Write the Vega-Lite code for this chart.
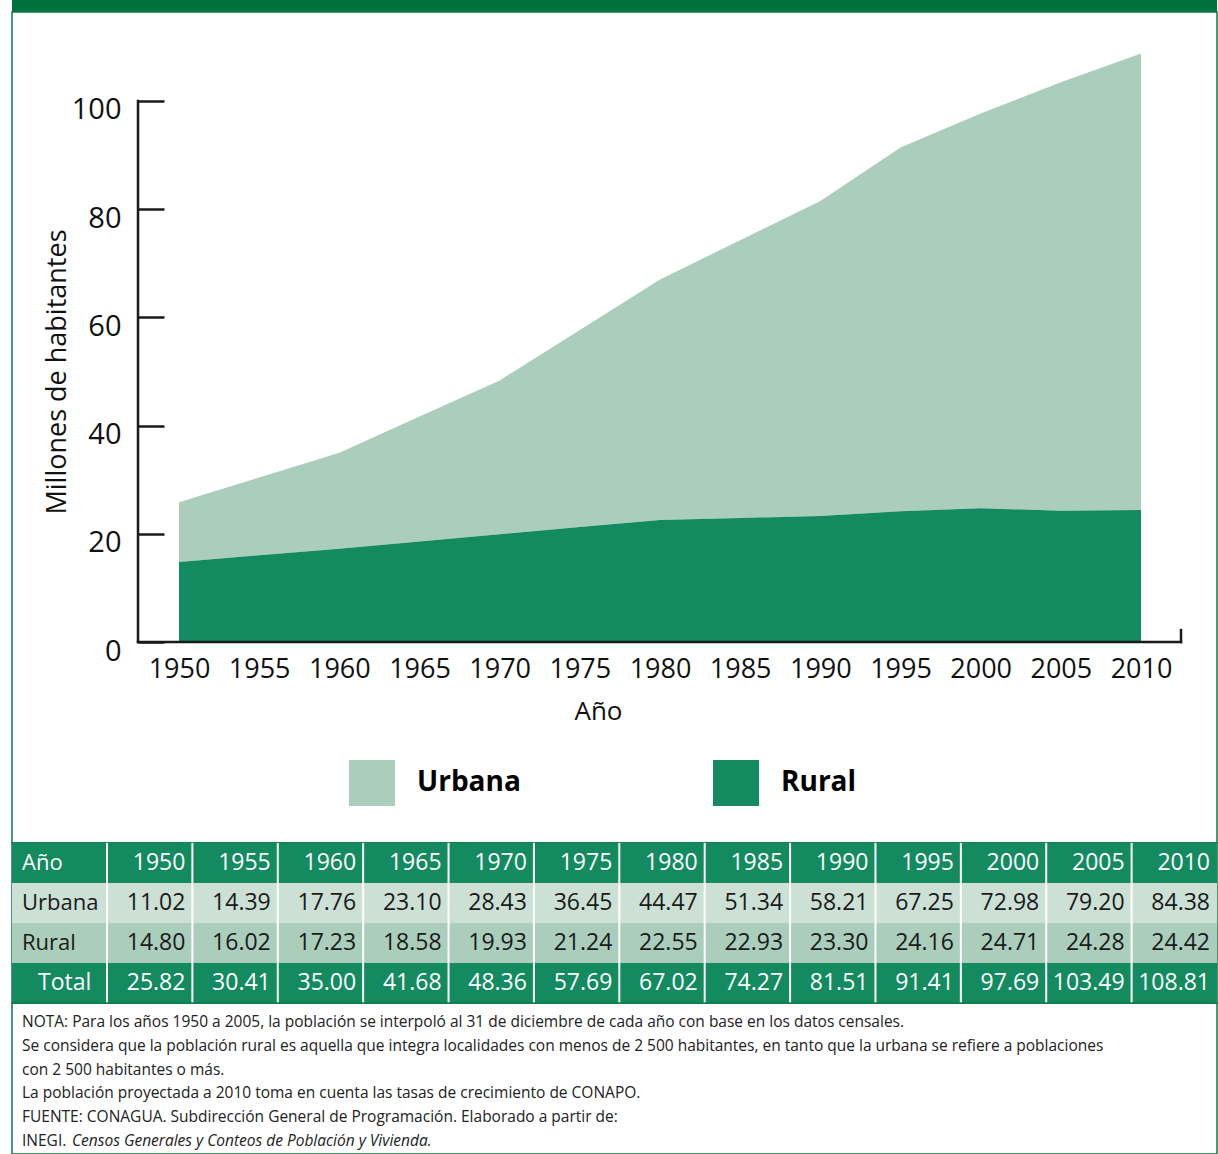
{
  "$schema": "https://vega.github.io/schema/vega-lite/v6.json",
  "padding": {"left": 11, "right": 2, "top": 0, "bottom": 0},
  "spacing": 0,
  "bounds": "flush",
  "background": "white",
  "config": {
    "font": "Open Sans",
    "view": {"stroke": "#0b7a45", "strokeWidth": 1.5},
    "axis": {"grid": false}
  },
  "resolve": {"scale": {"color": "independent", "x": "independent", "y": "independent"}},
  "datasets": {
    "poblacion": [
      {"anio": 1950, "Urbana": 11.02, "Rural": 14.80, "Total": 25.82},
      {"anio": 1955, "Urbana": 14.39, "Rural": 16.02, "Total": 30.41},
      {"anio": 1960, "Urbana": 17.76, "Rural": 17.23, "Total": 35.00},
      {"anio": 1965, "Urbana": 23.10, "Rural": 18.58, "Total": 41.68},
      {"anio": 1970, "Urbana": 28.43, "Rural": 19.93, "Total": 48.36},
      {"anio": 1975, "Urbana": 36.45, "Rural": 21.24, "Total": 57.69},
      {"anio": 1980, "Urbana": 44.47, "Rural": 22.55, "Total": 67.02},
      {"anio": 1985, "Urbana": 51.34, "Rural": 22.93, "Total": 74.27},
      {"anio": 1990, "Urbana": 58.21, "Rural": 23.30, "Total": 81.51},
      {"anio": 1995, "Urbana": 67.25, "Rural": 24.16, "Total": 91.41},
      {"anio": 2000, "Urbana": 72.98, "Rural": 24.71, "Total": 97.69},
      {"anio": 2005, "Urbana": 79.20, "Rural": 24.28, "Total": 103.49},
      {"anio": 2010, "Urbana": 84.38, "Rural": 24.42, "Total": 108.81}
    ],
    "filas": [
      {"fila": "Año"},
      {"fila": "Urbana"},
      {"fila": "Rural"},
      {"fila": "Total"}
    ],
    "notas": [
      {"linea": 1, "texto": "NOTA: Para los años 1950 a 2005, la población se interpoló al 31 de diciembre de cada año con base en los datos censales."},
      {"linea": 2, "texto": "Se considera que la población rural es aquella que integra localidades con menos de 2 500 habitantes, en tanto que la urbana se refiere a poblaciones"},
      {"linea": 3, "texto": "con 2 500 habitantes o más."},
      {"linea": 4, "texto": "La población proyectada a 2010 toma en cuenta las tasas de crecimiento de CONAPO."},
      {"linea": 5, "texto": "FUENTE: CONAGUA. Subdirección General de Programación. Elaborado a partir de:"},
      {"linea": 6, "texto": "INEGI."}
    ]
  },
  "vconcat": [
    {
      "width": 1205,
      "height": 12,
      "view": {"stroke": null, "fill": "#00703c"},
      "data": {"values": [{}]},
      "mark": {"type": "rect", "color": "#00703c"},
      "encoding": {}
    },
    {
      "width": 1205,
      "height": 831,
      "layer": [
        {
          "data": {"name": "poblacion"},
          "transform": [{"fold": ["Urbana", "Rural"], "as": ["serie", "valor"]}],
          "mark": {"type": "area", "opacity": 1},
          "encoding": {
            "x": {
              "field": "anio", "type": "quantitative",
              "scale": {"domain": [1939.584, 2014.74], "nice": false, "zero": false},
              "axis": {
                "values": [1950, 1955, 1960, 1965, 1970, 1975, 1980, 1985, 1990, 1995, 2000, 2005, 2010],
                "format": "d", "domain": false, "ticks": false, "tickSize": 0,
                "labelPadding": 14, "labelFontSize": 27, "labelColor": "#111",
                "labelFlush": false, "labelOverlap": false,
                "offset": -201,
                "title": "Año", "titleFontSize": 26, "titleFontWeight": "normal",
                "titleColor": "#111", "titlePadding": 16, "titleX": 586, "titleAnchor": "middle"
              }
            },
            "y": {
              "field": "valor", "type": "quantitative", "stack": "zero",
              "scale": {"domain": [-37.15, 116.45], "nice": false, "zero": false},
              "axis": {
                "values": [0, 20, 40, 60, 80, 100],
                "domain": false, "ticks": true, "tickSize": -26, "tickWidth": 2.5,
                "tickColor": "#1a1a1a",
                "labelPadding": 43, "labelFontSize": 29, "labelColor": "#111",
                "labelOffset": 9, "labelFlush": false,
                "offset": -126,
                "title": "Millones de habitantes", "titleFontSize": 27,
                "titleFontWeight": "normal", "titleColor": "#111",
                "titleX": -73, "titleY": 359.5, "titleBaseline": "alphabetic",
                "titleAlign": "center", "titleAngle": -90
              }
            },
            "color": {
              "field": "serie", "type": "nominal",
              "scale": {"domain": ["Urbana", "Rural"], "range": ["#abcdbc", "#138a5f"]},
              "legend": {
                "orient": "none", "legendX": 337, "legendY": 748,
                "direction": "horizontal", "title": null,
                "symbolType": "square", "symbolSize": 2116,
                "symbolStrokeWidth": 0, "symbolOpacity": 1,
                "labelFontSize": 28, "labelFontWeight": "bold", "labelColor": "#000",
                "labelOffset": 22, "columnPadding": 192, "labelLimit": 300, "padding": 0
              }
            },
            "order": {"field": "serie", "sort": "ascending"}
          }
        },
        {
          "data": {"values": [{}]},
          "mark": {"type": "rule", "color": "#1a1a1a", "strokeWidth": 2.5, "strokeCap": "square"},
          "encoding": {
            "x": {"datum": 1947.443, "type": "quantitative"},
            "y": {"datum": 0, "type": "quantitative"},
            "y2": {"datum": 100}
          }
        },
        {
          "data": {"values": [{}]},
          "mark": {"type": "rule", "color": "#1a1a1a", "strokeWidth": 2.5, "strokeCap": "square"},
          "encoding": {
            "x": {"datum": 1947.443, "type": "quantitative"},
            "x2": {"datum": 2012.495},
            "y": {"datum": 0, "type": "quantitative"}
          }
        },
        {
          "data": {"values": [{}]},
          "mark": {"type": "rule", "color": "#1a1a1a", "strokeWidth": 2.5, "strokeCap": "square"},
          "encoding": {
            "x": {"datum": 2012.495, "type": "quantitative"},
            "y": {"datum": 0, "type": "quantitative"},
            "y2": {"datum": 2.2}
          }
        }
      ]
    },
    {
      "width": 1205,
      "height": 160,
      "encoding": {
        "y": {
          "field": "fila", "type": "nominal",
          "scale": {"type": "band", "domain": ["Año", "Urbana", "Rural", "Total"], "paddingInner": 0, "paddingOuter": 0},
          "axis": null
        }
      },
      "layer": [
        {
          "data": {"name": "filas"},
          "mark": {"type": "rect"},
          "encoding": {
            "color": {
              "field": "fila", "type": "nominal",
              "scale": {"domain": ["Año", "Urbana", "Rural", "Total"], "range": ["#138a5f", "#cce0d6", "#abcdbc", "#138a5f"]},
              "legend": null
            }
          }
        },
        {
          "data": {"name": "poblacion"},
          "mark": {"type": "rule", "color": "white", "strokeWidth": 2},
          "encoding": {
            "y": null,
            "x": {
              "field": "anio", "type": "ordinal", "bandPosition": 0,
              "scale": {"type": "band", "paddingInner": 0, "paddingOuter": 0.5563, "align": 1},
              "axis": null
            }
          }
        },
        {
          "data": {"name": "poblacion"},
          "mark": {"type": "text", "align": "right", "baseline": "middle", "dx": -7, "fontSize": 23, "color": "white"},
          "encoding": {
            "x": {"field": "anio", "type": "ordinal", "bandPosition": 1},
            "y": {"datum": "Año"},
            "text": {"field": "anio", "type": "nominal"}
          }
        },
        {
          "data": {"name": "poblacion"},
          "transform": [{"fold": ["Urbana", "Rural", "Total"], "as": ["fila", "valor"]}],
          "mark": {"type": "text", "align": "right", "baseline": "middle", "dx": -7, "fontSize": 23},
          "encoding": {
            "x": {"field": "anio", "type": "ordinal", "bandPosition": 1},
            "text": {"field": "valor", "type": "quantitative", "format": ".2f"},
            "color": {"condition": {"test": "datum.fila === 'Total'", "value": "white"}, "value": "#1a1a1a"}
          }
        },
        {
          "data": {"name": "filas"},
          "transform": [{"filter": "datum.fila !== 'Total'"}],
          "mark": {"type": "text", "align": "left", "baseline": "middle", "dx": -85, "fontSize": 22},
          "encoding": {
            "x": {"datum": 1950, "type": "ordinal", "bandPosition": 0},
            "text": {"field": "fila", "type": "nominal"},
            "color": {"condition": {"test": "datum.fila === 'Año'", "value": "white"}, "value": "#1a1a1a"}
          }
        },
        {
          "data": {"name": "filas"},
          "transform": [{"filter": "datum.fila === 'Total'"}],
          "mark": {"type": "text", "align": "left", "baseline": "middle", "dx": -69, "fontSize": 23, "color": "white"},
          "encoding": {
            "x": {"datum": 1950, "type": "ordinal", "bandPosition": 0},
            "text": {"field": "fila", "type": "nominal"}
          }
        }
      ]
    },
    {
      "width": 1205,
      "height": 151,
      "layer": [
        {
          "data": {"name": "notas"},
          "mark": {"type": "text", "align": "left", "baseline": "middle", "dx": 10, "fontSize": 15.5, "color": "#222"},
          "encoding": {
            "x": {"datum": 0, "type": "quantitative", "scale": {"domain": [0, 1], "nice": false}, "axis": null},
            "y": {"field": "linea", "type": "quantitative", "scale": {"domain": [0.2017, 6.546], "nice": false, "zero": false, "reverse": true}, "axis": null},
            "text": {"field": "texto", "type": "nominal"}
          }
        },
        {
          "data": {"values": [{"linea": 6, "texto": "Censos Generales y Conteos de Población y Vivienda."}]},
          "mark": {"type": "text", "align": "left", "baseline": "middle", "dx": 60, "fontSize": 15.5, "fontStyle": "italic", "color": "#222"},
          "encoding": {
            "x": {"datum": 0, "type": "quantitative"},
            "y": {"field": "linea", "type": "quantitative"},
            "text": {"field": "texto", "type": "nominal"}
          }
        }
      ]
    }
  ]
}
